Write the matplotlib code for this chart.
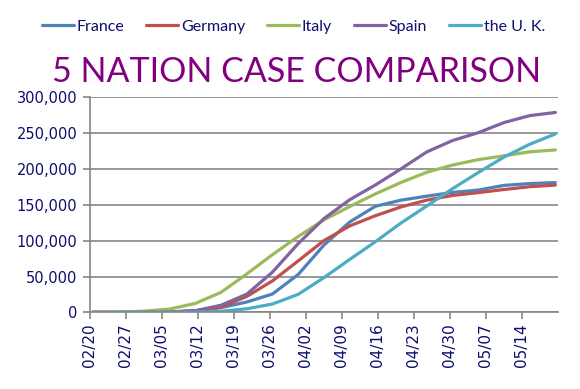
import pandas as pd
import matplotlib
matplotlib.use('Agg')
import matplotlib.pyplot as plt
import matplotlib.dates as mdates
from matplotlib.ticker import FuncFormatter


# data every 5 days, cumulative confirmed cases
dates = pd.date_range('2020-02-20', '2020-05-20', freq='5D')
france = [12, 14, 130, 653, 2284, 6633, 14459, 25600, 52827, 93773, 125931,
          147969, 156480, 162100, 167299, 170551, 177094, 179630, 181000]
germany = [16, 18, 130, 670, 1908, 7272, 22213, 43938, 71808, 100123, 120500,
           134753, 147065, 156513, 163009, 167007, 171324, 175233, 177500]
italy = [3, 322, 1694, 4636, 12462, 27980, 53578, 80539, 105792, 128948, 147577,
         165155, 181228, 195351, 205463, 213013, 218268, 223885, 226500]
spain = [2, 6, 84, 365, 2277, 9942, 25374, 56188, 95923, 130759, 157022,
         177633, 200210, 223759, 239639, 250561, 264663, 274367, 278803]
uk = [9, 13, 36, 164, 459, 1551, 5018, 11658, 25150, 48436, 73758,
      98476, 124743, 148377, 172481, 194990, 216525, 234440, 248818]

series = ['France', 'Germany', 'Italy', 'Spain', 'the U. K.']
colors = ['#4F81BD', '#C0504D', '#9BBB59', '#8064A2', '#4BACC6']
text_col = '#0E0E6E'
grid_col = '#868686'

fig = plt.figure(figsize=(5.8, 3.89), dpi=100)
ax = fig.add_axes([0.155, 0.197, 0.807, 0.553])

# Excel puts each point in the middle of its day
xs = dates + pd.Timedelta(hours=12)
for name, vals, c in zip(series, [france, germany, italy, spain, uk], colors):
    ax.plot(xs, vals, color=c, lw=2.3, label=name, solid_capstyle='round')

ax.set_ylim(0, 300000)
ax.set_yticks(range(0, 300001, 50000))
ax.yaxis.set_major_formatter(FuncFormatter(lambda v, p: f'{int(v):,}'))
ax.set_xlim(pd.Timestamp('2020-02-20'), pd.Timestamp('2020-05-21'))
xt = pd.date_range('2020-02-20', '2020-05-14', freq='7D')
ax.set_xticks(xt)
ax.xaxis.set_major_formatter(mdates.DateFormatter('%m/%d'))

ax.grid(axis='y', color=grid_col, lw=1.2)
ax.set_axisbelow(True)
for s in ['top', 'right']:
    ax.spines[s].set_visible(False)
for s in ['left', 'bottom']:
    ax.spines[s].set_color(grid_col)
    ax.spines[s].set_linewidth(1.2)
ax.tick_params(axis='both', colors=grid_col, width=1.2, length=5)
ax.tick_params(axis='y', labelsize=10.5, labelcolor=text_col, pad=4)
ax.tick_params(axis='x', labelsize=11, labelcolor=text_col, labelrotation=90, pad=3)

fig.text(0.512, 0.814, '5 NATION CASE COMPARISON', ha='center', va='center',
         fontsize=24.5, color='#800080', family='Lato')
fig.legend(loc='center', bbox_to_anchor=(0.506, 0.932), ncol=5, frameon=False,
           prop={'family': 'Lato', 'size': 11.5}, labelcolor=text_col,
           handlelength=2.0, handletextpad=0.15, columnspacing=1.4)

plt.savefig('out.png', dpi=100)
